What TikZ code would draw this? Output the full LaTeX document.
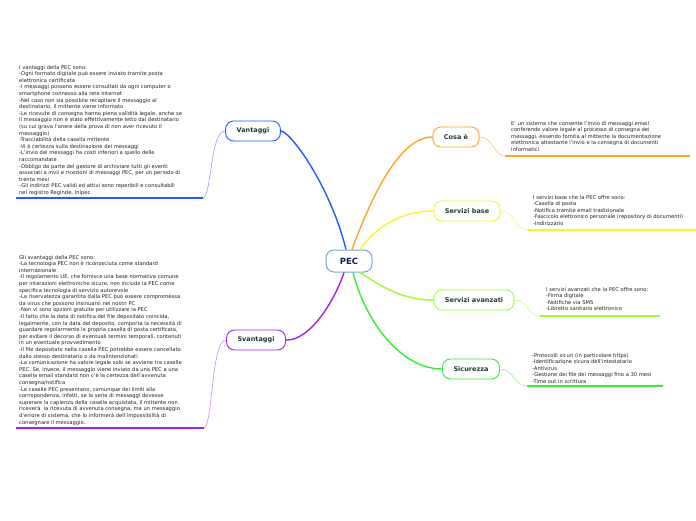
\documentclass[tikz,border=0pt]{standalone}
\usepackage{fontspec}
\setmainfont{DejaVu Sans}
\begin{document}
\begin{tikzpicture}[x=1pt,y=-1pt,
  topic/.style={draw, line width=0.9pt, rounded corners=8pt, fill=white, font=\fontsize{6.5}{7}\selectfont\bfseries, text=nodetext, inner xsep=11pt, minimum height=20pt},
  central/.style={draw=pecblue, line width=1pt, rounded corners=8pt, fill=white, font=\fontsize{8.5}{9}\selectfont\bfseries, text=pectext, minimum width=46pt, minimum height=22pt},
  note/.style={anchor=north west, inner sep=0pt, align=left, font=\fontsize{5.2}{6.6}\selectfont, text=notetext},
  branch/.style={line width=1.4pt},
  sub/.style={line width=0.6pt},
  bar/.style={line width=1.4pt}]
\definecolor{pecblue}{HTML}{6FA8DC}
\definecolor{pectext}{HTML}{0D1F4D}
\definecolor{nodetext}{HTML}{1E3D32}
\definecolor{notetext}{HTML}{222222}
\definecolor{cblue}{HTML}{1F5CFF}
\definecolor{cblueL}{HTML}{8AA4FF}
\definecolor{cpurple}{HTML}{A020F0}
\definecolor{cpurpleL}{HTML}{D08AF2}
\definecolor{corange}{HTML}{FFA52A}
\definecolor{corangeL}{HTML}{FFC880}
\definecolor{cyellow}{HTML}{F5F530}
\definecolor{cyellowL}{HTML}{F5F580}
\definecolor{clgreen}{HTML}{99FF33}
\definecolor{clgreenL}{HTML}{C2FF8A}
\definecolor{cgreen}{HTML}{33EE33}
\definecolor{cgreenL}{HTML}{99F599}
\useasboundingbox (0,0) rectangle (696,520);
\fill[white] (0,0) rectangle (696,520);

% nodes
\node[central] (pec) at (349,261) {PEC};
\node[topic, draw=corange] (cosa) at (456,137) {Cosa è};
\node[topic, draw=cyellow] (base) at (467,211) {Servizi base};
\node[topic, draw=clgreen] (avanz) at (474,300) {Servizi avanzati};
\node[topic, draw=cgreen] (sicur) at (471,369) {Sicurezza};
\node[topic, draw=cblue] (vant) at (253,131) {Vantaggi};
\node[topic, draw=cpurple] (svant) at (256,340) {Svantaggi};

% main branches
\draw[branch, cblue] ([xshift=-3pt]pec.north) .. controls (330,185) and (290,131) .. (vant.east);
\draw[branch, corange] ([xshift=3pt]pec.north) .. controls (372,195) and (400,137) .. (cosa.west);
\draw[branch, cyellow] ([xshift=11pt]pec.north) .. controls (375,228) and (400,211) .. (base.west);
\draw[branch, clgreen] ([xshift=11pt]pec.south) .. controls (380,285) and (400,300) .. (avanz.west);
\draw[branch, cgreen] ([xshift=4pt]pec.south) .. controls (365,320) and (400,369) .. (sicur.west);
\draw[branch, cpurple] ([xshift=-5pt]pec.south) .. controls (335,300) and (310,341) .. (svant.east);

% notes
\node[note] (tcosa) at (511,121) {E' un sistema che consente l'invio di messaggi email\\conferendo valore legale al processo di consegna dei\\messaggi, essendo fornita al mittente la documentazione\\elettronica attestante l'invio e la consegna di documenti\\informatici.};
\node[note] (tbase) at (533,195) {I servizi base che la PEC offre sono:\\-Casella di posta\\-Notifica tramite email tradizionale\\-Fascicolo elettronico personale (repository di documenti)\\-Indirizzario};
\node[note] (tavanz) at (546,287) {I servizi avanzati che la PEC offre sono:\\-Firma digitale\\-Notifiche via SMS\\-Libretto sanitario elettronico};
\node[note] (tsicur) at (532,353) {-Protocolli sicuri (in particolare https)\\-Identificazione sicura dell'intestatario\\-Antivirus\\-Gestione dei file dei messaggi fino a 30 mesi\\-Time out in scrittura};
\node[note] (tvant) at (19,65) {I vantaggi della PEC sono:\\-Ogni formato digitale può essere inviato tramite posta\\elettronica certificata\\-I messaggi possono essere consultati da ogni computer o\\smartphone connesso alla rete Internet\\-Nel caso non sia possibile recapitare il messaggio al\\destinatario, il mittente viene informato\\-Le ricevute di consegna hanno piena validità legale, anche se\\il messaggio non è stato effettivamente letto dal destinatario\\(su cui grava l'onere della prova di non aver ricevuto il\\messaggio)\\-Tracciabilità della casella mittente\\-Vi è certezza sulla destinazione dei messaggi\\-L'invio dei messaggi ha costi inferiori a quello delle\\raccomandate\\-Obbligo da parte del gestore di archiviare tutti gli eventi\\associati a invii e ricezioni di messaggi PEC, per un periodo di\\trenta mesi\\-Gli indirizzi PEC validi ed attivi sono reperibili e consultabili\\nel registro Reginde, Inipec};
\node[note] (tsvant) at (19,255) {Gli svantaggi della PEC sono:\\-La tecnologia PEC non è riconosciuta come standard\\internazionale\\-Il regolamento UE, che fornisce una base normativa comune\\per interazioni elettroniche sicure, non include la PEC come\\specifica tecnologia di servizio autorevole\\-La riservatezza garantita dalla PEC può essere compromessa\\da virus che possono insinuarsi nei nostri PC\\-Non vi sono opzioni gratuite per utilizzare la PEC\\-Il fatto che la data di notifica del file depositato coincida,\\legalmente, con la data del deposito, comporta la necessità di\\guardare regolarmente la propria casella di posta certificata,\\per evitare il decorso di eventuali termini temporali, contenuti\\in un eventuale provvedimento\\-Il file depositato nella casella PEC potrebbe essere cancellato\\dallo stesso destinatario o da malintenzionati\\-La comunicazione ha valore legale solo se avviene tra caselle\\PEC. Se, invece, il messaggio viene inviato da una PEC a una\\casella email standard non c'è la certezza dell'avvenuta\\consegna/notifica\\-Le caselle PEC presentano, comunque dei limiti alla\\corrispondenza, infatti, se la serie di messaggi dovesse\\superare la capienza della casella acquistata, il mittente non\\riceverà\ \ la ricevuta di avvenuta consegna, ma un messaggio\\d'errore di sistema, che lo informerà dell'impossibilità di\\consegnare il messaggio.};

% underline coordinates
\coordinate (ucosa1) at (505,156); \coordinate (ucosa2) at (690,156);
\coordinate (ubase1) at (528,230); \coordinate (ubase2) at (696,230);
\coordinate (uavanz1) at (540,316); \coordinate (uavanz2) at (660,316);
\coordinate (usicur1) at (527,386); \coordinate (usicur2) at (663,386);
\coordinate (uvant1) at (203,198); \coordinate (uvant2) at (16,198);
\coordinate (usvant1) at (204,428); \coordinate (usvant2) at (16,428);

% sub branches
\draw[sub, corangeL] (cosa.east) .. controls (493,137) and (494,156) .. (ucosa1);
\draw[sub, cyellowL] (base.east) .. controls (514,211) and (515,230) .. (ubase1);
\draw[sub, clgreenL] (avanz.east) .. controls (528,300) and (528,316) .. (uavanz1);
\draw[sub, cgreenL] (sicur.east) .. controls (514,369) and (514,386) .. (usicur1);
\draw[sub, cblueL] (vant.west) .. controls (210,131) and (212,195) .. (uvant1);
\draw[sub, cpurpleL] (svant.west) .. controls (211,340) and (213,425) .. (usvant1);

% underlines
\draw[bar, corange] (ucosa1) -- (ucosa2);
\draw[bar, cyellow] (ubase1) -- (ubase2);
\draw[bar, clgreen] (uavanz1) -- (uavanz2);
\draw[bar, cgreen] (usicur1) -- (usicur2);
\draw[bar, cblue] (uvant1) -- (uvant2);
\draw[bar, cpurple] (usvant1) -- (usvant2);
\end{tikzpicture}
\end{document}
